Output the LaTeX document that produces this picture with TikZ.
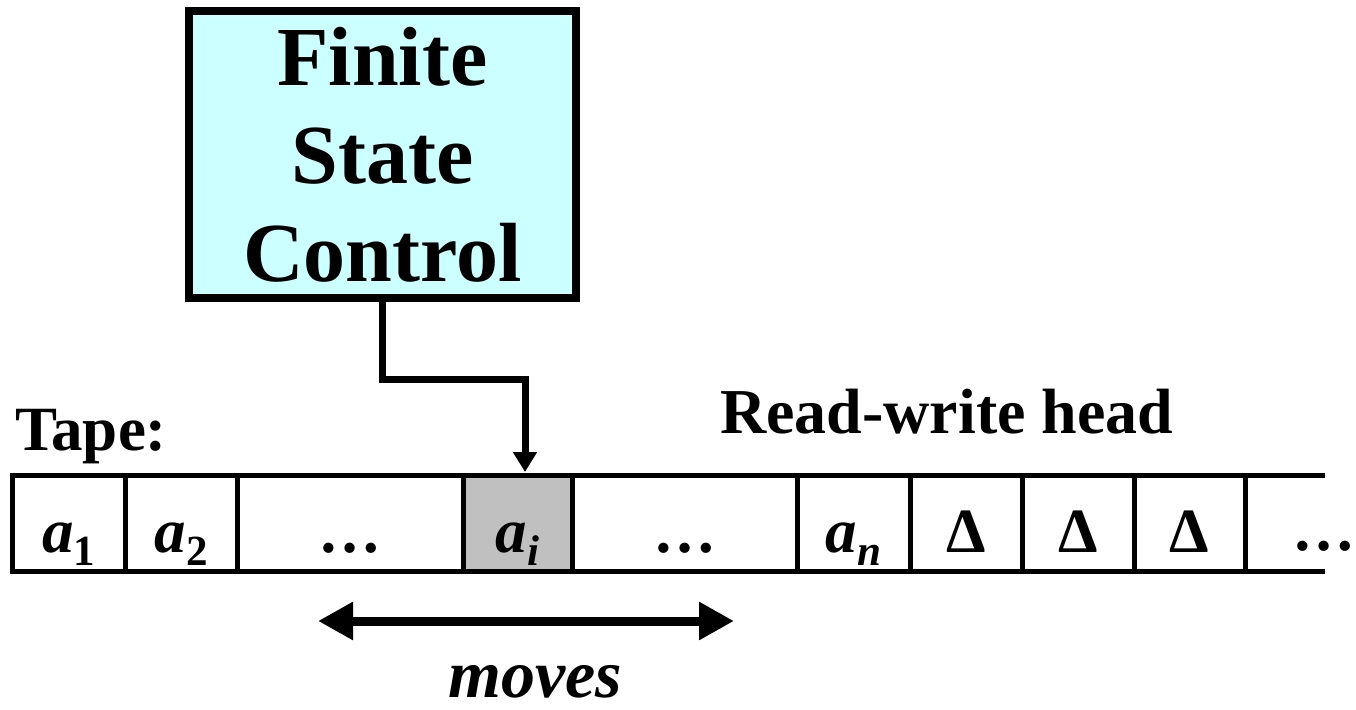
\documentclass[tikz,border=0pt]{standalone}
\usepackage{fontspec}
\setmainfont{Liberation Serif}
\usetikzlibrary{arrows.meta,calc}
\definecolor{fscfill}{HTML}{CCFFFF}
\definecolor{headgray}{HTML}{C0C0C0}
\newcommand{\tsym}[2]{{\fontsize{63}{63}\selectfont\bfseries\itshape #1\raisebox{-0.22em}{\fontsize{43}{43}\selectfont #2}}}
\newcommand{\tbig}[1]{{\fontsize{63}{63}\selectfont\bfseries #1}}
\begin{document}
\begin{tikzpicture}[x=1pt,y=-1pt,
  cell/.style={draw, line width=5pt, inner sep=0pt, outer sep=0pt, minimum height=96pt, text height=70pt, text depth=12pt},
  conn/.style={line width=7pt, -{Triangle[length=20pt,width=23pt]}},
  move/.style={line width=9pt, {Triangle[length=35pt,width=36pt]}-{Triangle[length=35pt,width=36pt]}},
  lbl/.style={inner sep=0pt, anchor=base west}]
\useasboundingbox (0,0) rectangle (1356,709);
% finite state control
\node[draw, line width=8pt, fill=fscfill, minimum width=387pt, minimum height=287pt, inner sep=0pt, outer sep=0pt,
  align=center, font=\fontsize{84}{98}\selectfont\bfseries] (fsc) at (382.5,154.5) {Finite\\State\\Control};
% tape cells
\node[cell, minimum width=113pt] (c1) at (68.5,523) {\tsym{a}{\upshape 1}};
\node[cell, minimum width=112pt] (c2) at (181,523) {\tsym{a}{\upshape 2}};
\node[cell, minimum width=226pt] (c3) at (350,523) {\tbig{…}};
\node[cell, minimum width=109pt, fill=headgray] (c4) at (517.5,523) {\tsym{a}{i}};
\node[cell, minimum width=225pt] (c5) at (684.5,523) {\tbig{…}};
\node[cell, minimum width=113pt] (c6) at (853.5,523) {\tsym{a}{n}};
\node[cell, minimum width=112pt] (c7) at (966,523) {\tbig{Δ}};
\node[cell, minimum width=112pt] (c8) at (1078,523) {\tbig{Δ}};
\node[cell, minimum width=111pt] (c9) at (1189.5,523) {\tbig{Δ}};
\coordinate (tend1) at (1325,475);
\coordinate (tend2) at (1325,571);
\draw[line width=5pt] (c9.north east) -- (tend1);
\draw[line width=5pt] (c9.south east) -- (tend2);
\node[inner sep=0pt, anchor=base] (c10) at (1324,550) {\tbig{…}};
% labels
\node[lbl] (tape) at (15,450) {\tbig{Tape:}};
\node[lbl] (rw) at (720,433) {{\fontsize{64}{64}\selectfont\bfseries Read-write head}};
% connector
\coordinate (bend1) at (382.5,379);
\coordinate (bend2) at (525,379);
\coordinate (headtip) at (525,472);
\draw[conn] (fsc.south) -- (bend1) -- (bend2) -- (headtip);
% moves
\coordinate (ml) at (318,621);
\coordinate (mr) at (734,621);
\draw[move] (ml) -- (mr);
\node[inner sep=0pt, anchor=base, text depth=0pt] (mv) at (535,697) {\fontsize{68}{68}\selectfont\bfseries\itshape moves};
\end{tikzpicture}
\end{document}
